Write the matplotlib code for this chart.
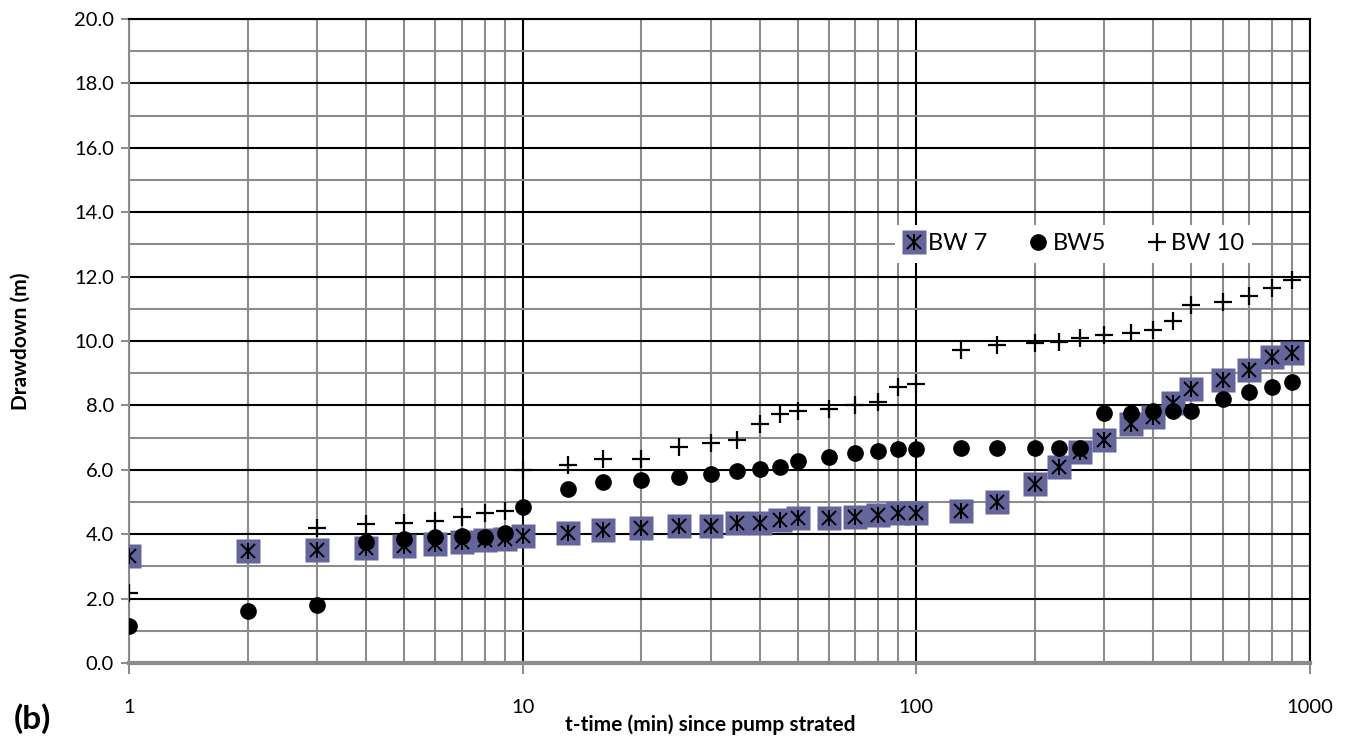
import numpy as np
import matplotlib.pyplot as plt
from matplotlib.ticker import FixedLocator, NullFormatter, FuncFormatter

plt.rcParams['font.family'] = ['Lato', 'DejaVu Sans']

# time (min) since pump started
t_bw7 = [1, 2, 3, 4, 5, 6, 7, 8, 9, 10, 13, 16, 20, 25, 30, 35, 40, 45, 50, 60,
         70, 80, 90, 100, 130, 160, 200, 230, 260, 300, 350, 400, 450, 500, 600,
         700, 800, 900]
s_bw7 = [3.33, 3.48, 3.51, 3.56, 3.64, 3.70, 3.77, 3.82, 3.84, 3.93, 4.03, 4.13,
         4.18, 4.25, 4.25, 4.36, 4.36, 4.44, 4.49, 4.49, 4.55, 4.60, 4.67, 4.67,
         4.71, 5.01, 5.55, 6.10, 6.56, 6.93, 7.41, 7.65, 8.07, 8.50, 8.79, 9.10,
         9.51, 9.62]

t_bw5 = t_bw7
s_bw5 = [1.15, 1.62, 1.80, 3.77, 3.84, 3.90, 3.94, 3.92, 4.03, 4.86, 5.39, 5.63,
         5.68, 5.79, 5.86, 5.97, 6.02, 6.10, 6.28, 6.39, 6.53, 6.58, 6.64, 6.64,
         6.69, 6.69, 6.69, 6.69, 6.69, 7.77, 7.77, 7.83, 7.83, 7.83, 8.19, 8.43,
         8.56, 8.72]

t_bw10 = [1, 3, 4, 5, 6, 7, 8, 9, 10, 13, 16, 20, 25, 30, 35, 40, 45, 50, 60,
          70, 80, 90, 100, 130, 160, 200, 230, 260, 300, 350, 400, 450, 500, 600,
          700, 800, 900]
s_bw10 = [2.16, 4.18, 4.31, 4.36, 4.42, 4.55, 4.67, 4.72, 6.01, 6.15, 6.33, 6.33,
          6.70, 6.82, 6.94, 7.41, 7.72, 7.84, 7.89, 8.01, 8.12, 8.56, 8.66, 9.72,
          9.88, 9.95, 9.98, 10.08, 10.20, 10.26, 10.34, 10.63, 11.12, 11.22, 11.40,
          11.66, 11.89]

fig = plt.figure(figsize=(13.64, 7.40), dpi=100)
ax = fig.add_axes([0.0946, 0.104, 0.8658, 0.8703])

ax.set_xscale('log')
ax.set_xlim(1, 1000)
ax.set_ylim(0, 20)

# grid: black major lines, grey minor lines
major_x = [1, 10, 100, 1000]
minor_x = [m * d for d in (1, 10, 100) for m in range(2, 10)]
ax.xaxis.set_major_locator(FixedLocator(major_x))
ax.xaxis.set_minor_locator(FixedLocator(minor_x))
ax.xaxis.set_minor_formatter(NullFormatter())
ax.xaxis.set_major_formatter(FuncFormatter(lambda v, p: '%d' % v))
ax.yaxis.set_major_locator(FixedLocator(np.arange(0, 20.1, 2)))
ax.yaxis.set_minor_locator(FixedLocator(np.arange(1, 20, 2)))
ax.yaxis.set_major_formatter(FuncFormatter(lambda v, p: '%.1f' % v))

ax.grid(which='major', color='black', lw=1.5, zorder=0)
ax.grid(which='minor', color='#8c8c8c', lw=1.5, zorder=0)
ax.set_axisbelow(True)

ax.tick_params(axis='x', which='major', direction='out', length=8, width=1.5,
               color='#8c8c8c', pad=18, labelsize=14.5)
ax.tick_params(axis='x', which='minor', length=0)
ax.tick_params(axis='y', which='major', direction='out', length=6, width=1.5,
               color='#8c8c8c', pad=5, labelsize=14.5)
ax.tick_params(axis='y', which='minor', length=0)

for side in ('left', 'bottom'):
    ax.spines[side].set_color('#8c8c8c')
ax.spines['left'].set_linewidth(1.5)
ax.spines['bottom'].set_linewidth(3)
ax.spines['right'].set_color('black')
ax.spines['right'].set_linewidth(1.5)
ax.spines['top'].set_color('black')
ax.spines['top'].set_linewidth(1.5)

# BW 7: filled square with a black asterisk on top
sq = ax.plot(t_bw7, s_bw7, ls='none', marker='s', ms=17, mfc='#63659b',
             mec='none', zorder=3)[0]
xm = ax.plot(t_bw7, s_bw7, ls='none', marker='x', ms=10, mec='black',
             mew=1.4, zorder=4)[0]
vm = ax.plot(t_bw7, s_bw7, ls='none', marker='|', ms=11, mec='black',
             mew=1.4, zorder=4)[0]
# BW5
c5 = ax.plot(t_bw5, s_bw5, ls='none', marker='o', ms=11, mfc='black',
             mec='black', zorder=5)[0]
# BW 10
p10 = ax.plot(t_bw10, s_bw10, ls='none', marker='+', ms=13, mec='black',
              mew=1.6, zorder=5)[0]

leg = ax.legend([(sq, xm, vm), c5, p10], ['BW 7', 'BW5', 'BW 10'], ncol=3,
                loc='center', bbox_to_anchor=(0.800, 0.651), frameon=True,
                facecolor='white', edgecolor='none', framealpha=1,
                fontsize=17, handlelength=0.9, handletextpad=0.15,
                columnspacing=1.7, borderpad=0.35)
leg.get_frame().set_boxstyle('square', pad=0)

fig.text(0.5205, 1 - 725 / 740, 't-time (min) since pump strated', fontsize=15,
         fontweight='bold', ha='center', va='center')
ax.set_ylabel('Drawdown (m)', fontsize=15, fontweight='bold')
ax.yaxis.set_label_coords(-0.083, 0.5)
fig.text(0.010, 0.015, '(b)', fontsize=24, fontweight='bold')

fig.savefig('out.png', dpi=100)
